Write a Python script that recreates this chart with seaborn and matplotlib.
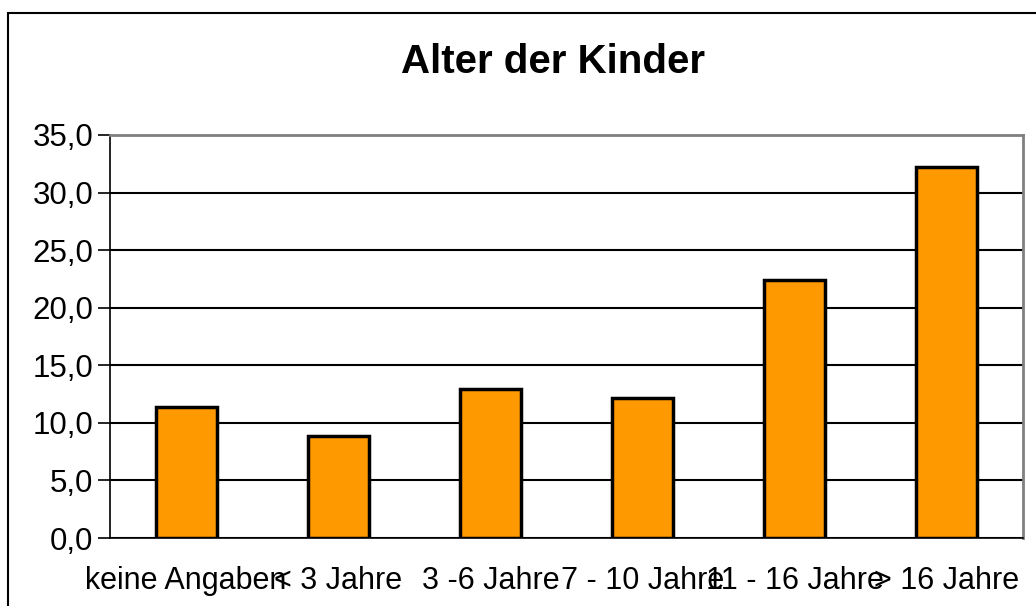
import matplotlib
matplotlib.use("Agg")
import matplotlib.pyplot as plt
import seaborn as sns
from matplotlib.patches import Rectangle
from matplotlib.ticker import FuncFormatter, FixedLocator

categories = ["keine Angaben", "< 3 Jahre", "3 -6 Jahre", "7 - 10 Jahre", "11 - 16 Jahre", "> 16 Jahre"]
percent = [11.4, 8.9, 12.9, 12.2, 22.4, 32.2]
title = "Alter der Kinder"

sns.set_style("white")
plt.rcParams["font.family"] = ["Liberation Sans", "DejaVu Sans"]
plt.rcParams["text.color"] = "black"
plt.rcParams["xtick.color"] = "black"
plt.rcParams["ytick.color"] = "black"

W, H = 1036, 606
fig = plt.figure(figsize=(W / 100, H / 100), dpi=100)
ax = fig.add_axes([110 / W, 1 - 538 / H, (1023 - 110) / W, (538 - 135) / H])

sns.barplot(x=categories, y=percent, ax=ax, color="#FF9900", width=0.4,
            edgecolor="black", linewidth=2.5, saturation=1)

ax.set_ylim(0, 35)
ax.set_xlim(-0.5, len(categories) - 0.5)
ax.set_yticks([0, 5, 10, 15, 20, 25, 30, 35])
ax.yaxis.set_major_formatter(FuncFormatter(lambda v, p: f"{v:.1f}".replace(".", ",")))
ax.grid(axis="y", color="black", linewidth=1.5)
ax.set_axisbelow(True)

# ticks between the categories, labels centred under bars
ax.xaxis.set_minor_locator(FixedLocator([i - 0.5 for i in range(len(categories) + 1)]))
ax.tick_params(axis="x", which="major", length=0, labelsize=22, pad=20)
ax.tick_params(axis="x", which="minor", length=8, width=1.2, direction="out")
ax.tick_params(axis="y", length=9, width=1.2, direction="out", labelsize=22.5, pad=3, left=True)
ax.set_xlabel("")
ax.set_ylabel("")

for side in ["top", "right"]:
    ax.spines[side].set_color("#808080")
    ax.spines[side].set_linewidth(2)
ax.spines["left"].set_color("black")
ax.spines["left"].set_linewidth(1.2)
ax.spines["bottom"].set_color("black")
ax.spines["bottom"].set_linewidth(1.2)

fig.text(553 / W, 1 - 62 / H, title, ha="center", va="center", fontsize=29, fontweight="bold")

fig.patches.append(Rectangle((8 / W, -0.05), 1.05, 1 - 13 / H + 0.05, transform=fig.transFigure,
                             fill=False, edgecolor="black", linewidth=1.5))

fig.savefig("out.png", dpi=100)
